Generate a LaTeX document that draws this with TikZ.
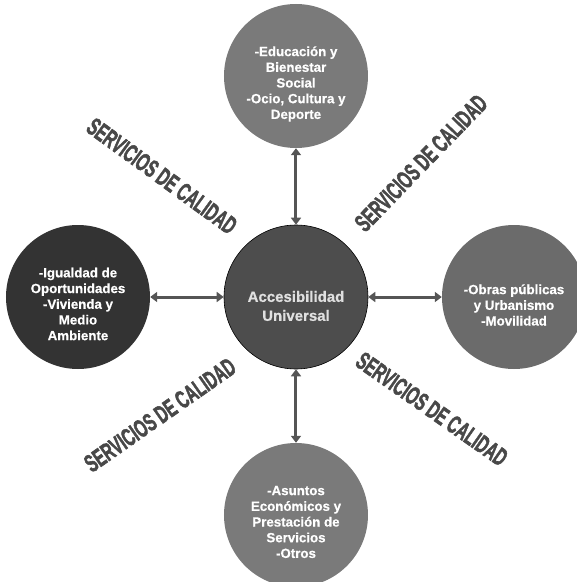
\documentclass[tikz,border=0pt]{standalone}
\usepackage{fontspec}
\setmainfont{Liberation Sans}[BoldFont={Liberation Sans Bold},BoldFeatures={FakeBold=0.6}]
\newfontfamily\posterfont{Liberation Sans}[BoldFont={Liberation Sans Bold},BoldFeatures={FakeBold=2.5}]
\usepackage{xcolor}
\usetikzlibrary{arrows.meta}

\definecolor{hubgray}{HTML}{4D4D4D}
\definecolor{darkgray}{HTML}{333333}
\definecolor{midgray}{HTML}{7A7A7A}
\definecolor{sidegray}{HTML}{6B6B6B}
\definecolor{arrowgray}{HTML}{555555}
\definecolor{labelgray}{HTML}{484848}

\tikzset{
  area/.style={circle, minimum size=144pt, inner sep=0pt},
  areatext/.style={align=center, inner sep=0pt, text=white,
    font=\bfseries\fontsize{13.3}{15.7}\selectfont},
  link/.style={{Triangle[length=7pt,width=10pt]}-{Triangle[length=7pt,width=10pt]},
    line width=3pt, draw=arrowgray},
  quality/.style={text=labelgray, font=\posterfont\bfseries\fontsize{25}{25}\selectfont,
    xscale=0.6, transform shape, inner sep=0pt}
}

\begin{document}
\begin{tikzpicture}[x=1pt,y=1pt]
      \useasboundingbox (-296,-285) rectangle (281,297);

      % circles
      \node[area, fill=hubgray, draw=black, line width=0.6pt] (hub) at (0,0) {};
      \node[area, fill=midgray] (top) at (0,221) {};
      \node[area, fill=darkgray] (left) at (-218,0) {};
      \node[area, fill=sidegray] (right) at (218,0) {};
      \node[area, fill=midgray] (bottom) at (0,-218) {};

      % texts, set a little below the centres
      \node[areatext, text=white!88!black, font=\bfseries\fontsize{15}{19}\selectfont]
            (hubText) at ([yshift=-9pt]hub.center) {Accesibilidad\\Universal};
      \node[areatext] (topText) at ([yshift=-8pt]top.center)
            {-Educación y\\Bienestar\\Social\\-Ocio, Cultura y\\Deporte};
      \node[areatext] (leftText) at ([yshift=-7pt]left.center)
            {-Igualdad de\\Oportunidades\\-Vivienda y\\Medio\\Ambiente};
      \node[areatext] (rightText) at ([yshift=-8pt]right.center)
            {-Obras públicas\\y Urbanismo\\-Movilidad};
      \node[areatext] (bottomText) at ([yshift=-7pt]bottom.center)
            {-Asuntos\\Económicos y\\Prestación de\\Servicios\\-Otros};

      \draw[link] (top) -- (hub);
      \draw[link] (left) -- (hub);
      \draw[link] (right) -- (hub);
      \draw[link] (bottom) -- (hub);

      \node[rotate=-36, quality] (qualNW) at (-134,121) {SERVICIOS DE CALIDAD};
      \node[rotate=46, quality] (qualNE) at (125,134) {SERVICIOS DE CALIDAD};
      \node[rotate=35, quality] (qualSW) at (-136,-118) {SERVICIOS DE CALIDAD};
      \node[rotate=-35, quality] (qualSE) at (136,-112) {SERVICIOS DE CALIDAD};
\end{tikzpicture}
\end{document}
